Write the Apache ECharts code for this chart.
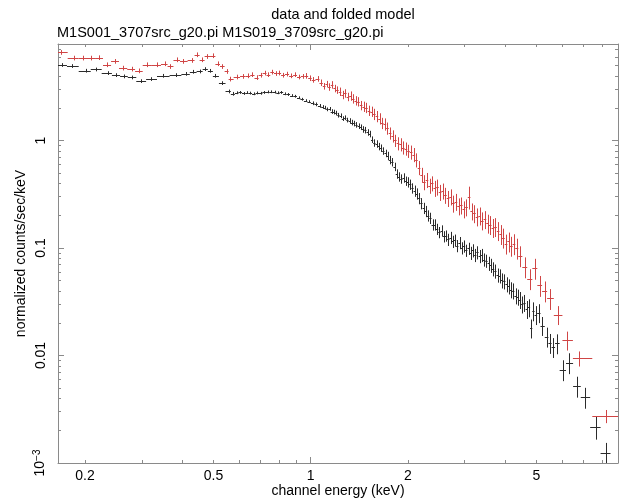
<!DOCTYPE html>
<html>
<head>
<meta charset="utf-8">
<script src="https://cdn.jsdelivr.net/npm/echarts@6/dist/echarts.min.js"></script>
<style>
  html, body { margin: 0; padding: 0; background: #fff; }
  #chart { width: 619px; height: 499px; }
</style>
</head>
<body>
<div id="chart"></div>
<script>
// axis ranges (keV, counts/sec/keV)
const xRange = [0.165, 8.95];
const yRange = [0.001, 7.9];

// tick positions and labels
const xLabels = [0.2, 0.5, 1, 2, 5];
const xMajor = [1];
const xMinor = [0.2, 0.3, 0.4, 0.5, 0.6, 0.7, 0.8, 0.9, 2, 3, 4, 5, 6, 7, 8];
const yLabels = [0.001, 0.01, 0.1, 1];
const yMajor = [0.001, 0.01, 0.1, 1];
const yMinor = [0.002, 0.003, 0.004, 0.005, 0.006, 0.007, 0.008, 0.009,
  0.02, 0.03, 0.04, 0.05, 0.06, 0.07, 0.08, 0.09,
  0.2, 0.3, 0.4, 0.5, 0.6, 0.7, 0.8, 0.9, 2, 3, 4, 5, 6, 7];

// M1S001 (black): bin energy, rate, relative error
const blackE = [0.170, 0.182, 0.201, 0.216, 0.235, 0.250, 0.264, 0.279, 0.298, 0.321,
  0.348, 0.384, 0.412, 0.433, 0.454, 0.472, 0.489, 0.507, 0.533, 0.557, 0.575,
  0.590, 0.605, 0.620, 0.635, 0.650, 0.667, 0.684, 0.700, 0.718, 0.736,
  0.754, 0.773, 0.792, 0.812, 0.832, 0.853, 0.874, 0.896, 0.918, 0.941,
  0.965, 0.989, 1.014, 1.040, 1.066,
  1.090, 1.108, 1.126, 1.144, 1.162, 1.181, 1.200, 1.219, 1.239, 1.259,
  1.279, 1.300, 1.321, 1.342, 1.364, 1.386, 1.408, 1.431, 1.454, 1.477,
  1.501, 1.525, 1.550, 1.575, 1.600, 1.626, 1.652, 1.679, 1.706, 1.733,
  1.761, 1.790, 1.819, 1.848, 1.878, 1.908, 1.939, 1.970, 2.002, 2.034,
  2.067, 2.100, 2.134, 2.168, 2.203, 2.239, 2.275, 2.312, 2.349, 2.387,
  2.425, 2.464, 2.504, 2.544, 2.585, 2.627, 2.669, 2.712, 2.756, 2.800,
  2.845, 2.891, 2.938, 2.985, 3.033, 3.082, 3.132, 3.182, 3.233, 3.285,
  3.338, 3.392, 3.447, 3.502, 3.559, 3.616, 3.674, 3.733, 3.793, 3.854,
  3.916, 3.979, 4.043, 4.108, 4.174, 4.241, 4.310, 4.379, 4.450, 4.521,
  4.594, 4.668, 4.743, 4.820, 4.897, 4.976,
  5.080, 5.220, 5.400, 5.500, 5.650, 5.780, 6.030, 6.330, 6.670, 7.060,
  7.630, 8.190];
const blackY = [5.04, 4.93, 4.46, 4.58, 4.24, 4.06, 3.95, 3.86, 3.57, 3.73,
  4.00, 4.06, 4.17, 4.36, 4.39, 4.62, 4.45, 4.00, 3.42, 2.86, 2.72,
  2.78, 2.80, 2.74, 2.79, 2.76, 2.72, 2.77, 2.75, 2.80, 2.83,
  2.84, 2.82, 2.78, 2.80, 2.72, 2.68, 2.62, 2.58, 2.50, 2.42,
  2.35, 2.30, 2.22, 2.17, 2.10,
  2.05, 2.02, 1.95, 1.97, 1.86, 1.84, 1.80, 1.72, 1.70, 1.60,
  1.63, 1.55, 1.52, 1.47, 1.44, 1.40, 1.36, 1.33, 1.27, 1.25,
  1.19, 1.15, 1.02, 0.95, 0.93, 0.88, 0.85, 0.80, 0.76, 0.72,
  0.66, 0.63, 0.57, 0.49, 0.46, 0.44, 0.45, 0.42, 0.41, 0.39,
  0.36, 0.34, 0.32, 0.29, 0.26, 0.235, 0.22, 0.20, 0.19, 0.165,
  0.165, 0.15, 0.14, 0.145, 0.128, 0.13, 0.12, 0.125, 0.115, 0.118,
  0.105, 0.112, 0.100, 0.104, 0.095, 0.099, 0.090, 0.095, 0.086, 0.091,
  0.084, 0.086, 0.078, 0.076, 0.072, 0.069, 0.064, 0.061, 0.056, 0.055,
  0.050, 0.049, 0.046, 0.044, 0.041, 0.040, 0.036, 0.035, 0.033, 0.030,
  0.031, 0.027, 0.028, 0.018, 0.026, 0.024,
  0.025, 0.019, 0.015, 0.0131, 0.012, 0.013, 0.0074, 0.0086, 0.0052, 0.0041,
  0.00217, 0.00123];
const blackErr = [0.04, 0.04, 0.04, 0.04, 0.04, 0.04, 0.04, 0.04, 0.04, 0.04,
  0.04, 0.04, 0.04, 0.04, 0.04, 0.04, 0.04, 0.04, 0.04, 0.04, 0.04,
  0.03, 0.03, 0.03, 0.03, 0.03, 0.03, 0.03, 0.03, 0.03, 0.03,
  0.03, 0.03, 0.03, 0.03, 0.03, 0.03, 0.03, 0.03, 0.03, 0.03,
  0.03, 0.03, 0.04, 0.04, 0.04,
  0.04, 0.04, 0.04, 0.04, 0.05, 0.05, 0.05, 0.05, 0.05, 0.05,
  0.05, 0.05, 0.06, 0.06, 0.06, 0.06, 0.06, 0.06, 0.07, 0.07,
  0.07, 0.07, 0.07, 0.08, 0.08, 0.08, 0.08, 0.08, 0.08, 0.09,
  0.09, 0.09, 0.09, 0.10, 0.10, 0.10, 0.10, 0.10, 0.11, 0.11,
  0.11, 0.12, 0.12, 0.12, 0.12, 0.12, 0.12, 0.12, 0.12, 0.12,
  0.12, 0.12, 0.12, 0.12, 0.12, 0.12, 0.13, 0.13, 0.13, 0.13,
  0.13, 0.13, 0.13, 0.13, 0.13, 0.13, 0.14, 0.14, 0.14, 0.14,
  0.14, 0.14, 0.14, 0.14, 0.15, 0.15, 0.15, 0.15, 0.15, 0.15,
  0.16, 0.16, 0.16, 0.16, 0.17, 0.17, 0.17, 0.17, 0.18, 0.18,
  0.18, 0.19, 0.19, 0.20, 0.20, 0.20,
  0.20, 0.20, 0.21, 0.21, 0.21, 0.21, 0.22, 0.22, 0.22, 0.22,
  0.24, 0.25];

// M1S019 (red)
const redE = [0.169, 0.185, 0.197, 0.209, 0.221, 0.234, 0.248, 0.262, 0.279, 0.293,
  0.311, 0.334, 0.354, 0.367, 0.385, 0.403, 0.429, 0.445, 0.461, 0.478,
  0.498, 0.516, 0.532, 0.551, 0.563,
  0.592, 0.617, 0.640, 0.660, 0.680, 0.700, 0.720, 0.740, 0.760, 0.780,
  0.800, 0.820, 0.845, 0.870, 0.895, 0.920, 0.945, 0.970, 0.995, 1.020,
  1.050,
  1.080, 1.101, 1.122, 1.143, 1.165, 1.187, 1.210, 1.233, 1.256, 1.280,
  1.304, 1.329, 1.354, 1.380, 1.406, 1.433, 1.460, 1.488, 1.516, 1.545,
  1.574, 1.604, 1.634, 1.665, 1.697, 1.729, 1.762, 1.795, 1.829, 1.864,
  1.899, 1.935, 1.972, 2.009, 2.047, 2.086, 2.126, 2.166, 2.207, 2.249,
  2.292, 2.335, 2.379, 2.424, 2.470, 2.517, 2.565, 2.614, 2.663, 2.714,
  2.765, 2.818, 2.871, 2.926, 2.981, 3.038, 3.095, 3.154, 3.214, 3.275,
  3.337, 3.400, 3.465, 3.531, 3.598, 3.666, 3.736, 3.807, 3.879, 3.953,
  4.028, 4.104, 4.182, 4.262, 4.343,
  4.450, 4.600, 4.770, 4.950, 5.120, 5.300, 5.500, 5.830, 6.220, 6.770,
  8.200];
const redY = [6.60, 5.85, 5.85, 5.85, 5.90, 5.07, 5.45, 4.72, 4.62, 4.45,
  5.07, 5.07, 5.18, 4.88, 5.64, 5.45, 5.56, 6.28, 5.64, 6.05,
  6.15, 5.18, 4.88, 4.39, 3.73,
  3.90, 3.95, 4.00, 4.10, 3.85, 4.05, 4.24, 4.10, 4.33, 4.20,
  4.25, 4.05, 4.15, 4.00, 4.10, 3.90, 3.95, 4.00, 3.80, 3.67,
  3.75,
  3.45, 3.20, 3.35, 3.15, 3.30, 3.05, 2.95, 2.85, 2.66, 2.75,
  2.55, 2.60, 2.45, 2.35, 2.30, 2.12, 2.07, 2.02, 1.90, 1.86,
  1.76, 1.68, 1.60, 1.45, 1.42, 1.30, 1.17, 1.10, 1.00, 0.94,
  0.92, 0.86, 0.84, 0.80, 0.78, 0.74, 0.66, 0.56, 0.48, 0.41,
  0.43, 0.38, 0.40, 0.36, 0.37, 0.33, 0.34, 0.31, 0.29, 0.30,
  0.26, 0.27, 0.245, 0.25, 0.23, 0.24, 0.30, 0.22, 0.21, 0.196,
  0.20, 0.18, 0.185, 0.17, 0.165, 0.155, 0.158, 0.145, 0.135, 0.125,
  0.11, 0.115, 0.105, 0.11, 0.10,
  0.085, 0.067, 0.052, 0.065, 0.045, 0.040, 0.034, 0.024, 0.0139, 0.0094,
  0.00273];
const redErr = [0.05, 0.05, 0.05, 0.05, 0.05, 0.05, 0.05, 0.05, 0.05, 0.05,
  0.05, 0.05, 0.05, 0.05, 0.05, 0.05, 0.05, 0.05, 0.05, 0.05,
  0.05, 0.05, 0.05, 0.05, 0.05,
  0.05, 0.05, 0.05, 0.05, 0.05, 0.05, 0.05, 0.05, 0.05, 0.05,
  0.05, 0.05, 0.05, 0.05, 0.05, 0.05, 0.05, 0.06, 0.06, 0.06,
  0.06,
  0.07, 0.07, 0.07, 0.08, 0.08, 0.08, 0.08, 0.09, 0.09, 0.09,
  0.09, 0.10, 0.10, 0.10, 0.10, 0.10, 0.11, 0.11, 0.11, 0.11,
  0.12, 0.12, 0.12, 0.12, 0.13, 0.13, 0.13, 0.13, 0.13, 0.14,
  0.14, 0.14, 0.14, 0.14, 0.15, 0.15, 0.15, 0.15, 0.16, 0.16,
  0.16, 0.16, 0.16, 0.17, 0.17, 0.17, 0.17, 0.17, 0.17, 0.17,
  0.18, 0.18, 0.18, 0.18, 0.18, 0.18, 0.24, 0.18, 0.19, 0.19,
  0.19, 0.19, 0.19, 0.20, 0.20, 0.20, 0.20, 0.20, 0.21, 0.21,
  0.21, 0.21, 0.21, 0.22, 0.22,
  0.22, 0.22, 0.22, 0.22, 0.22, 0.22, 0.22, 0.20, 0.20, 0.16,
  0.14];

const FONT = '"Liberation Sans", Arial, sans-serif';
const AXIS_COLOR = '#8a8a8a';

// bin edges from geometric midpoints between neighbouring channels
function toCrosses(es, ys, errs) {
  return es.map((e, i) => {
    const lo = i > 0 ? Math.sqrt(es[i - 1] * e) : e * e / Math.sqrt(e * es[i + 1]);
    const hi = i < es.length - 1 ? Math.sqrt(e * es[i + 1]) : e * e / Math.sqrt(es[i - 1] * e);
    return [e, ys[i], lo, hi, ys[i] * (1 - errs[i]), ys[i] * (1 + errs[i])];
  });
}

function renderCross(params, api) {
  const x = api.value(0);
  const y = api.value(1);
  const a = api.coord([api.value(2), y]);
  const b = api.coord([api.value(3), y]);
  const c = api.coord([x, api.value(4)]);
  const d = api.coord([x, api.value(5)]);
  const hy = Math.round(a[1]) + 0.5;
  const vx = Math.round(c[0]) + 0.5;
  const style = { stroke: api.visual('color'), lineWidth: 1 };
  return {
    type: 'group',
    children: [
      { type: 'line', shape: { x1: a[0], y1: hy, x2: b[0], y2: hy }, style },
      { type: 'line', shape: { x1: vx, y1: c[1], x2: vx, y2: d[1] }, style }
    ]
  };
}

function xAx(position, ticks, len, showLine, showLabel) {
  return {
    type: 'log', logBase: 10, min: xRange[0], max: xRange[1], position,
    name: showLabel ? 'channel energy (keV)' : '',
    nameLocation: 'middle', nameGap: 21, nameMoveOverlap: false,
    nameTextStyle: { fontFamily: FONT, fontSize: 14, color: '#000' },
    axisLine: { show: showLine, lineStyle: { color: AXIS_COLOR, width: 1 } },
    axisTick: { show: true, inside: true, length: len, customValues: ticks, lineStyle: { color: AXIS_COLOR } },
    axisLabel: {
      show: showLabel, customValues: xLabels, margin: 6,
      fontFamily: FONT, fontSize: 14, color: '#000',
      formatter: v => String(v)
    },
    splitLine: { show: false }, minorTick: { show: false }
  };
}

function yAx(position, ticks, len, showLine, showLabel) {
  return {
    type: 'log', logBase: 10, min: yRange[0], max: yRange[1], position,
    name: showLabel ? 'normalized counts/sec/keV' : '',
    nameLocation: 'middle', nameGap: 30, nameMoveOverlap: false,
    nameTextStyle: { fontFamily: FONT, fontSize: 14, color: '#000' },
    axisLine: { show: showLine, lineStyle: { color: AXIS_COLOR, width: 1 } },
    axisTick: { show: true, inside: true, length: len, customValues: ticks, lineStyle: { color: AXIS_COLOR } },
    axisLabel: {
      show: showLabel, customValues: yLabels, margin: 10, rotate: 90,
      fontFamily: FONT, fontSize: 14, color: '#000',
      formatter: v => (v < 0.005 ? '10{sup|\u22123}' : String(v)),
      rich: { sup: { fontFamily: FONT, fontSize: 10, color: '#000', verticalAlign: 'top', padding: [0, 0, 6, 0] } }
    },
    splitLine: { show: false }, minorTick: { show: false }
  };
}

const chart = echarts.init(document.getElementById('chart'), null, { renderer: 'canvas' });
chart.setOption({
  backgroundColor: '#fff',
  animation: false,
  title: [
    {
      text: 'data and folded model', left: 338, top: 2, textAlign: 'center',
      textStyle: { fontFamily: FONT, fontSize: 14.5, fontWeight: 'normal', color: '#000' }
    },
    {
      text: 'M1S001_3707src_g20.pi M1S019_3709src_g20.pi', left: 52, top: 20,
      textStyle: { fontFamily: FONT, fontSize: 14.5, fontWeight: 'normal', color: '#000' }
    }
  ],
  grid: { left: 58, right: 1, top: 44, bottom: 36, containLabel: false, outerBoundsMode: 'none' },
  xAxis: [
    xAx('bottom', xMinor, 3, true, true),
    xAx('bottom', xMajor, 6, false, false),
    xAx('top', xMinor, 3, true, false),
    xAx('top', xMajor, 6, false, false)
  ],
  yAxis: [
    yAx('left', yMinor, 3, true, true),
    yAx('left', yMajor, 6, false, false),
    yAx('right', yMinor, 3, true, false),
    yAx('right', yMajor, 6, false, false)
  ],
  series: [
    {
      name: 'M1S001', type: 'custom', clip: true,
      xAxisIndex: 0, yAxisIndex: 0,
      itemStyle: { color: '#2b2b2b' },
      renderItem: renderCross,
      encode: { x: 0, y: 1 },
      data: toCrosses(blackE, blackY, blackErr)
    },
    {
      name: 'M1S019', type: 'custom', clip: true,
      xAxisIndex: 0, yAxisIndex: 0,
      itemStyle: { color: '#d04545' },
      renderItem: renderCross,
      encode: { x: 0, y: 1 },
      data: toCrosses(redE, redY, redErr)
    }
  ]
});
</script>
</body>
</html>
